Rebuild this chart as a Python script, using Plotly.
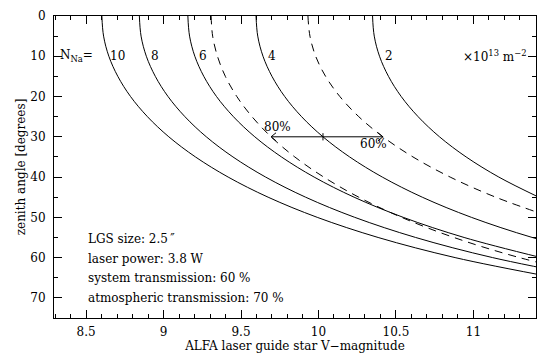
import plotly.graph_objects as go

# zenith angle samples (degrees)
zenith = [0, 5, 10, 15, 20, 25, 30, 35, 40, 45, 50, 55, 60, 65, 70]

# LGS V-magnitude vs zenith angle, for sodium column densities (x1e13 m^-2)
n_na_labels = ["10", "8", "6", "4", "2"]
mag_n10 = [8.602, 8.613, 8.647, 8.705, 8.787, 8.896, 9.034, 9.206, 9.417, 9.675, 9.992, 10.385, 10.882, 11.530]
mag_n8 = [8.844, 8.855, 8.889, 8.947, 9.029, 9.138, 9.276, 9.448, 9.659, 9.917, 10.234, 10.627, 11.124, 11.772]
mag_n6 = [9.157, 9.168, 9.202, 9.260, 9.342, 9.451, 9.589, 9.761, 9.972, 10.230, 10.547, 10.940, 11.437]
mag_n4 = [9.597, 9.608, 9.642, 9.700, 9.782, 9.891, 10.029, 10.201, 10.412, 10.670, 10.987, 11.380, 11.877]
mag_n2 = [10.349, 10.360, 10.394, 10.452, 10.534, 10.643, 10.781, 10.953, 11.164, 11.422]
# N_Na = 4 with atmospheric transmission 80 % and 60 % (dashed)
mag_t80 = [9.307, 9.317, 9.348, 9.399, 9.473, 9.571, 9.694, 9.847, 10.034, 10.260, 10.536, 10.874, 11.297, 11.839]
mag_t60 = [9.932, 9.945, 9.982, 10.046, 10.138, 10.260, 10.416, 10.610, 10.850, 11.144, 11.508]

x_ticks = [8.5, 9, 9.5, 10, 10.5, 11]
x_ticklabels = ["8.5", "9", "9.5", "10", "10.5", "11"]
y_ticks = [0, 10, 20, 30, 40, 50, 60, 70]

info_lines = ["LGS size: 2.5\u2009\u2033", "laser power: 3.8 W",
              "system transmission: 60 %", "atmospheric transmission: 70 %"]
info_z = [55.4, 60.3, 65.1, 70.0]

FONT = "DejaVu Serif"
fig = go.Figure()

solid = [mag_n10, mag_n8, mag_n6, mag_n4, mag_n2]
for m in solid:
    fig.add_trace(go.Scatter(x=m, y=zenith[:len(m)], mode="lines",
                             line=dict(color="black", width=1, shape="spline"),
                             showlegend=False, hoverinfo="skip"))
for m in [mag_t80, mag_t60]:
    fig.add_trace(go.Scatter(x=m, y=zenith[:len(m)], mode="lines",
                             line=dict(color="black", width=1, dash="8px,6px", shape="spline"),
                             showlegend=False, hoverinfo="skip"))

# arrow at z = 30 between the 80% and 60% curves
iz = zenith.index(30)
az = zenith[iz]
xl, xr, xm = mag_t80[iz], mag_t60[iz], mag_n4[iz]
dx, dz = 0.032, 1.0
fig.add_trace(go.Scatter(x=[xl, xr], y=[az, az], mode="lines",
                         line=dict(color="black", width=1), showlegend=False, hoverinfo="skip"))
fig.add_trace(go.Scatter(x=[xl + dx, xl, xl + dx], y=[az - dz, az, az + dz], mode="lines",
                         line=dict(color="black", width=1), showlegend=False, hoverinfo="skip"))
fig.add_trace(go.Scatter(x=[xr - dx, xr, xr - dx], y=[az - dz, az, az + dz], mode="lines",
                         line=dict(color="black", width=1), showlegend=False, hoverinfo="skip"))
fig.add_trace(go.Scatter(x=[xm, xm], y=[az - 0.9, az + 0.9], mode="lines",
                         line=dict(color="black", width=1), showlegend=False, hoverinfo="skip"))

ann = []
label_x = [8.70, 8.946, 9.252, 9.703, 10.455]
for lab, x in zip(n_na_labels, label_x):
    ann.append(dict(x=x, y=10, text=lab, showarrow=False, xanchor="center", yanchor="middle"))
ann.append(dict(x=8.558, y=10, text="N<sub>Na</sub>=", showarrow=False, xanchor="right", yanchor="middle"))
ann.append(dict(x=11.137, y=10, text="\u00d710<sup>13</sup> m<sup>\u22122</sup>", showarrow=False,
                xanchor="center", yanchor="middle"))
ann.append(dict(x=9.735, y=27.6, text="80%", showarrow=False, xanchor="center", yanchor="middle"))
ann.append(dict(x=10.353, y=31.7, text="60%", showarrow=False, xanchor="center", yanchor="middle"))
for t, z in zip(info_lines, info_z):
    ann.append(dict(x=8.5, y=z, text=t, showarrow=False, xanchor="left", yanchor="middle"))
for a in ann:
    a["font"] = dict(family=FONT, size=12, color="black")
    a["xref"] = "x"
    a["yref"] = "y"

fig.update_layout(
    width=558, height=362,
    margin=dict(l=54, r=22, t=16, b=44),
    paper_bgcolor="white", plot_bgcolor="white",
    font=dict(family=FONT, size=12, color="black"),
    annotations=ann,
    xaxis=dict(range=[8.293, 11.404], tickvals=x_ticks, ticktext=x_ticklabels,
               ticks="inside", ticklen=8, tickwidth=1, tickcolor="black",
               minor=dict(dtick=0.1, tick0=8.5, ticks="inside", ticklen=4, tickcolor="black"),
               showline=True, linecolor="black", linewidth=1, mirror="allticks",
               showgrid=False, zeroline=False, automargin=False, ticklabelstandoff=3,
               title=dict(text="ALFA laser guide star V\u2212magnitude", standoff=0,
                          font=dict(family=FONT, size=12))),
    yaxis=dict(range=[75, 0], tickvals=y_ticks,
               ticks="inside", ticklen=8, tickwidth=1, tickcolor="black",
               minor=dict(dtick=5, tick0=0, ticks="inside", ticklen=4, tickcolor="black"),
               showline=True, linecolor="black", linewidth=1, mirror="allticks",
               showgrid=False, zeroline=False, automargin=False, ticklabelstandoff=5,
               title=dict(text="zenith angle [degrees]", standoff=2,
                          font=dict(family=FONT, size=12))),
)

fig.write_html("out.html", config={"displayModeBar": False},
               post_script="document.body.style.margin='0';document.body.style.overflow='hidden';")
